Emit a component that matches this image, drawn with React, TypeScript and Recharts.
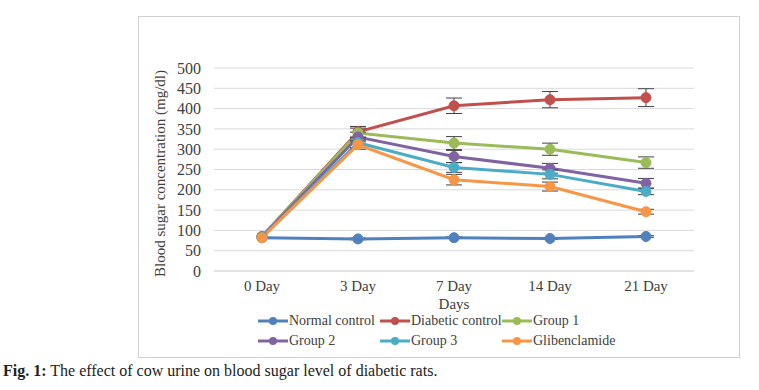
import React from 'react';
import { LineChart, Line, XAxis, YAxis, CartesianGrid, Legend, ErrorBar } from 'recharts';

// values (mg/dl)
const days = ['0 Day', '3 Day', '7 Day', '14 Day', '21 Day'];
const yTicks = [0, 50, 100, 150, 200, 250, 300, 350, 400, 450, 500];

const normalControl = [82, 79, 82, 80, 85];
const diabeticControl = [85, 343, 407, 422, 427];
const group1 = [85, 340, 315, 300, 267];
const group2 = [84, 330, 282, 253, 216];
const group3 = [83, 316, 255, 238, 196];
const glibenclamide = [82, 311, 225, 208, 146];

const normalErr = [0, 2, 2, 2, 2];
const diabeticErr = [0, 13, 19, 20, 22];
const group1Err = [0, 12, 16, 15, 14];
const group2Err = [0, 12, 15, 12, 12];
const group3Err = [0, 12, 12, 11, 8];
const glibErr = [0, 11, 13, 11, 6];

const SERIES = [
  { key: 'normal', name: 'Normal control', color: '#4f81bd', values: normalControl, err: normalErr },
  { key: 'diabetic', name: 'Diabetic control', color: '#c0504d', values: diabeticControl, err: diabeticErr },
  { key: 'g1', name: 'Group 1', color: '#9bbb59', values: group1, err: group1Err },
  { key: 'g2', name: 'Group 2', color: '#8064a2', values: group2, err: group2Err },
  { key: 'g3', name: 'Group 3', color: '#4bacc6', values: group3, err: group3Err },
  { key: 'glib', name: 'Glibenclamide', color: '#f79646', values: glibenclamide, err: glibErr },
];

const data = days.map((day, i) => {
  const row: { [k: string]: any } = { day };
  SERIES.forEach((s) => {
    row[s.key] = s.values[i];
    row[s.key + 'Err'] = s.err[i];
  });
  return row;
});

const FONT = '"Liberation Serif", "Times New Roman", serif';
const TEXT = '#404040';

const renderLegend = () => (
  <div style={{ display: 'grid', gridTemplateColumns: '122px 122px 122px' }}>
    {SERIES.map((s) => (
      <div key={s.key} style={{ display: 'flex', alignItems: 'center', height: 20 }}>
        <svg width={31} height={10} style={{ display: 'block' }}>
          <line x1={0} y1={5} x2={30} y2={5} stroke={s.color} strokeWidth={3} />
          <circle cx={15} cy={5} r={4} fill={s.color} />
        </svg>
        <span style={{ fontFamily: FONT, fontSize: 14, color: TEXT, whiteSpace: 'nowrap' }}>{s.name}</span>
      </div>
    ))}
  </div>
);

export default function App() {
  return (
    <div style={{ position: 'absolute', left: 0, top: 0, width: 759, height: 390, background: '#fff' }}>
      <div
        style={{
          position: 'absolute', left: 138, top: 16, width: 600, height: 340,
          border: '1px solid #d0d0d0',
        }}
      />
      <div style={{ position: 'absolute', left: 0, top: 0 }}>
        {/* legend box (40px) is added to the bottom offset by recharts, so margin.bottom is reduced */}
        <LineChart width={759} height={390} data={data} margin={{ top: 68, right: 65, bottom: 49, left: 154 }}>
          <CartesianGrid vertical={false} stroke="#d9d9d9" strokeWidth={1} />
          <XAxis
            dataKey="day"
            padding={{ left: 48, right: 48 }}
            tickLine={false}
            axisLine={{ stroke: '#d9d9d9' }}
            tickSize={0}
            tickMargin={9}
            height={30}
            tick={{ fontFamily: FONT, fontSize: 15, fill: TEXT }}
            label={{ value: 'Days', position: 'insideBottom', offset: -8, fontFamily: FONT, fontSize: 15, fill: TEXT }}
          />
          <YAxis
            domain={[0, 500]}
            ticks={yTicks}
            interval={0}
            tickLine={false}
            axisLine={false}
            tickSize={0}
            tickMargin={13}
            width={60}
            tick={{ fontFamily: FONT, fontSize: 16, fill: TEXT }}
            label={{
              value: 'Blood sugar concentration (mg/dl)', angle: -90, position: 'insideLeft',
              offset: 0, dx: 6, dy: 4, fontFamily: FONT, fontSize: 15, fill: TEXT,
              style: { textAnchor: 'middle' },
            }}
          />
          <Legend
            content={renderLegend}
            wrapperStyle={{ position: 'absolute', left: 258, top: 311, width: 380, bottom: 'auto' }}
          />
          {SERIES.map((s) => (
            <Line
              key={s.key}
              dataKey={s.key}
              name={s.name}
              stroke={s.color}
              strokeWidth={3}
              dot={{ r: 5, fill: s.color, stroke: s.color, strokeWidth: 1 }}
              activeDot={false}
              isAnimationActive={false}
            >
              <ErrorBar dataKey={s.key + 'Err'} direction="y" width={8} stroke="#404040" strokeWidth={1} />
            </Line>
          ))}
        </LineChart>
      </div>
      <div
        style={{
          position: 'absolute', left: 3, top: 362, fontFamily: FONT, fontSize: 16,
          color: '#222', whiteSpace: 'nowrap',
        }}
      >
        <b>Fig. 1:</b> The effect of cow urine on blood sugar level of diabetic rats.
      </div>
    </div>
  );
}
